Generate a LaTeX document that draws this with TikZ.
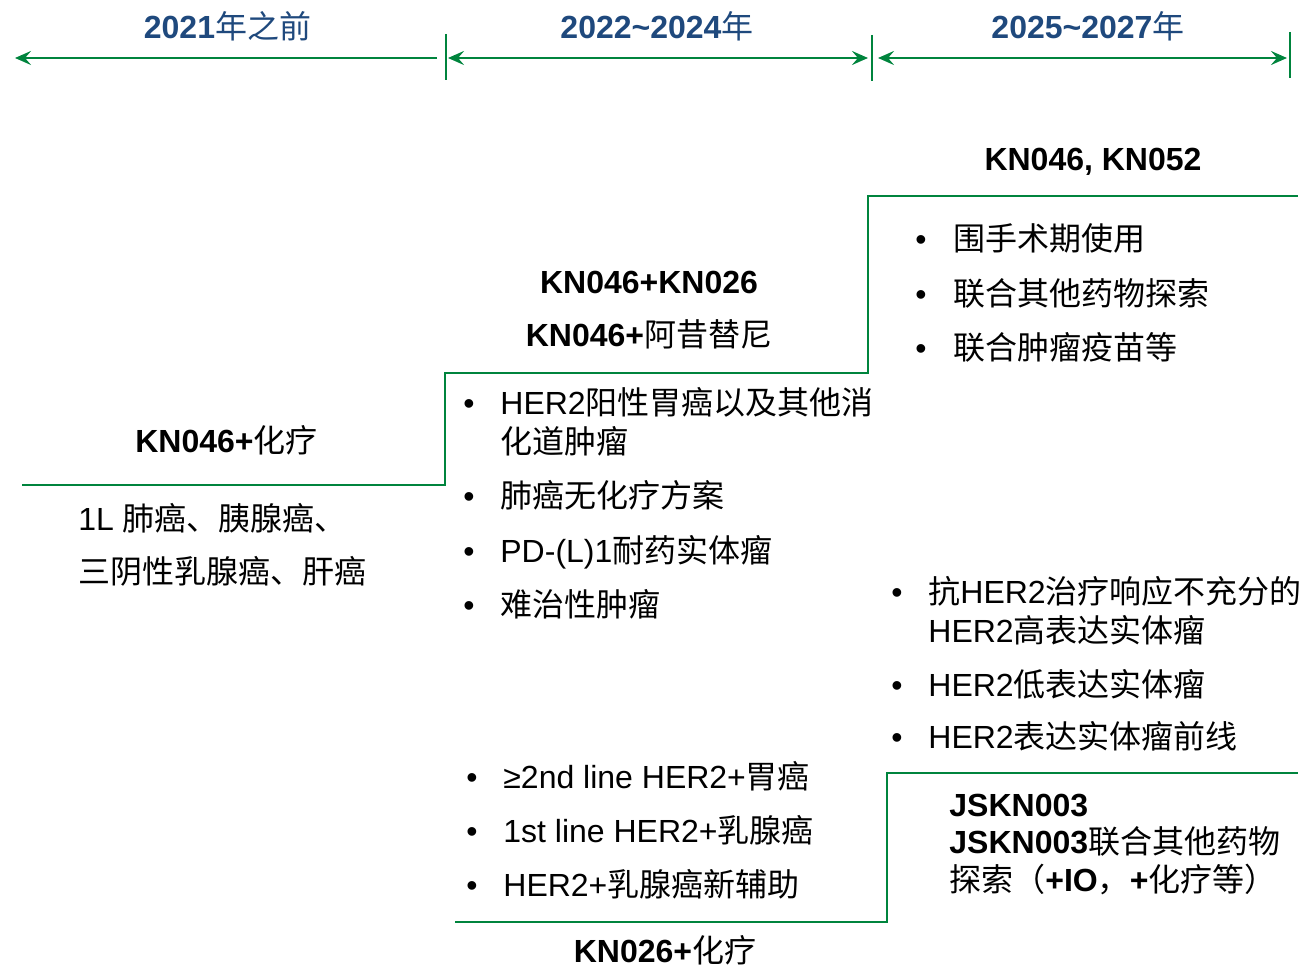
\documentclass[tikz,border=0pt]{standalone}
\usepackage{fontspec}
\setmainfont{Liberation Sans}
\newfontfamily\cjk{Noto Sans CJK SC}
\usetikzlibrary{arrows.meta}
\definecolor{hdblue}{RGB}{31,73,125}
\definecolor{lngreen}{RGB}{0,132,61}
\newcommand\zh[1]{{\cjk\mdseries #1}}
\begin{document}
\begin{tikzpicture}[x=0.5pt,y=-0.5pt,
  tx/.style={inner sep=0pt, anchor=base west, font=\fontsize{16pt}{19pt}\selectfont},
  hb/.style={tx, font=\fontsize{16pt}{19pt}\selectfont\bfseries},
  hd/.style={inner sep=0pt, anchor=base, text=hdblue, font=\fontsize{16pt}{19pt}\selectfont\bfseries},
  bul/.style={inner sep=0pt, anchor=base, font=\fontsize{16pt}{19pt}\selectfont},
  jb/.style={inner sep=0pt, anchor=base west, font=\fontsize{16pt}{19pt}\selectfont\bfseries},
  tline/.style={draw=lngreen, line width=1.4pt},
  tick/.style={draw=lngreen, line width=1pt},
  stair/.style={draw=lngreen, line width=1pt},
  ahead/.style={-{Stealth[length=8pt,width=7pt,inset=3pt]}},
  bhead/.style={{Stealth[length=8pt,width=7pt,inset=3pt]}-{Stealth[length=8pt,width=7pt,inset=3pt]}}
]
\useasboundingbox (0,0) rectangle (1302,968);

% ---- timeline header ----
\node[hd] (h1) at (227.5,39) {2021\zh{年之前}};
\node[hd] (h2) at (657,39) {2022\textasciitilde2024\zh{年}};
\node[hd] (h3) at (1088,39) {2025\textasciitilde2027\zh{年}};

\coordinate (a1s) at (437,58);
\coordinate (a1e) at (15,58);
\coordinate (a2s) at (448,58);
\coordinate (a2e) at (868,58);
\coordinate (a3s) at (878,58);
\coordinate (a3e) at (1287,58);
\draw[tline, ahead] (a1s) -- (a1e);
\draw[tline, bhead] (a2s) -- (a2e);
\draw[tline, bhead] (a3s) -- (a3e);

\coordinate (t1a) at (446,34);  \coordinate (t1b) at (446,80);
\coordinate (t2a) at (872,35);  \coordinate (t2b) at (872,81);
\coordinate (t3a) at (1290,32); \coordinate (t3b) at (1290,78);
\draw[tick] (t1a) -- (t1b);
\draw[tick] (t2a) -- (t2b);
\draw[tick] (t3a) -- (t3b);

% ---- stair lines ----
\coordinate (s0) at (22,485);
\coordinate (s1) at (445,485);
\coordinate (s2) at (445,373);
\coordinate (s3) at (868,373);
\coordinate (s4) at (868,196);
\coordinate (s5) at (1298,196);
\draw[stair] (s0) -- (s1) -- (s2) -- (s3) -- (s4) -- (s5);

\coordinate (b0) at (455,922);
\coordinate (b1) at (887,922);
\coordinate (b2) at (887,773);
\coordinate (b3) at (1298,773);
\draw[stair] (b0) -- (b1) -- (b2) -- (b3);

% ---- left column ----
\node[hb, anchor=base] (kn046c) at (226.5,452) {KN046+\zh{化疗}};
\node[tx] (l1a) at (78,530) {1L \zh{肺癌、胰腺癌、}};
\node[tx] (l1b) at (78,583) {\zh{三阴性乳腺癌、肝癌}};

% ---- middle upper ----
\node[hb, anchor=base] (m1) at (649,294) {KN046+KN026};
\node[hb, anchor=base] (m2) at (649,347) {KN046+\zh{阿昔替尼}};

\node[bul] (mb1) at (469,415) {•};
\node[tx] (mt1a) at (500,415) {HER2\zh{阳性胃癌以及其他消}};
\node[tx] (mt1b) at (500,453) {\zh{化道肿瘤}};
\node[bul] (mb2) at (469,507) {•};
\node[tx] (mt2) at (500,507) {\zh{肺癌无化疗方案}};
\node[bul] (mb3) at (469,562) {•};
\node[tx] (mt3) at (500,562) {PD-(L)1\zh{耐药实体瘤}};
\node[bul] (mb4) at (469,616) {•};
\node[tx] (mt4) at (500,616) {\zh{难治性肿瘤}};

% ---- middle lower ----
\node[bul] (lb1) at (472,788) {•};
\node[tx] (lt1) at (503,788) {≥2nd line HER2+\zh{胃癌}};
\node[bul] (lb2) at (472,842) {•};
\node[tx] (lt2) at (503,842) {1st line HER2+\zh{乳腺癌}};
\node[bul] (lb3) at (472,896) {•};
\node[tx] (lt3) at (503,896) {HER2+\zh{乳腺癌新辅助}};
\node[hb, anchor=base] (kn026c) at (665,962) {KN026+\zh{化疗}};

% ---- right upper ----
\node[hb, anchor=base] (r0) at (1093,171) {KN046, KN052};
\node[bul] (rb1) at (921,251) {•};
\node[tx] (rt1) at (953,251) {\zh{围手术期使用}};
\node[bul] (rb2) at (921,306) {•};
\node[tx] (rt2) at (953,306) {\zh{联合其他药物探索}};
\node[bul] (rb3) at (921,360) {•};
\node[tx] (rt3) at (953,360) {\zh{联合肿瘤疫苗等}};

% ---- right lower ----
\node[bul] (qb1) at (897,603) {•};
\node[tx] (qt1a) at (928,603) {\zh{抗}HER2\zh{治疗响应不充分的}};
\node[tx] (qt1b) at (928,642) {HER2\zh{高表达实体瘤}};
\node[bul] (qb2) at (897,696) {•};
\node[tx] (qt2) at (928,696) {HER2\zh{低表达实体瘤}};
\node[bul] (qb3) at (897,748) {•};
\node[tx] (qt3) at (928,748) {HER2\zh{表达实体瘤前线}};

\node[jb] (j1) at (949,816) {JSKN003};
\node[jb] (j2) at (949,853) {JSKN003\zh{联合其他药物}};
\node[jb] (j3) at (949,891) {\zh{探索（}+IO\zh{，}+\zh{化疗等）}};
\end{tikzpicture}
\end{document}
